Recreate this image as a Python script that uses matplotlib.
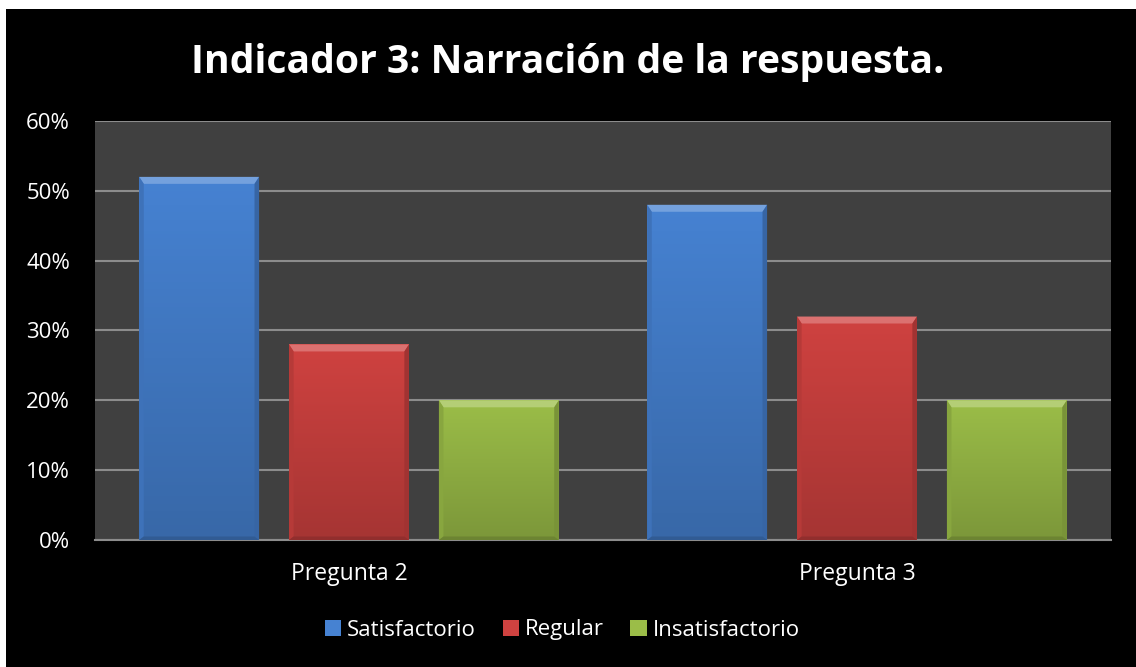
import numpy as np
import matplotlib.pyplot as plt
import matplotlib.patches as patches
from matplotlib.colors import to_rgb, LinearSegmentedColormap

categories = ["Pregunta 2", "Pregunta 3"]
series = ["Satisfactorio", "Regular", "Insatisfactorio"]
satisfactorio = [52, 48]
regular = [28, 32]
insatisfactorio = [20, 20]
values = [satisfactorio, regular, insatisfactorio]
colors = ["#4682d2", "#cf4240", "#9bbd48"]
yticks = [0, 10, 20, 30, 40, 50, 60]


def shade(c, f):
    r, g, b = to_rgb(c)
    if f > 1:
        return tuple(min(1, x + (1 - x) * (f - 1)) for x in (r, g, b))
    return (r * f, g * f, b * f)


def bevel(ax, bar, color, bx=0.009, by=1.0):
    # fake the office style bevel + gradient on each bar
    x0, w, h = bar.get_x(), bar.get_width(), bar.get_height()
    x1 = x0 + w
    cmap = LinearSegmentedColormap.from_list("g", [shade(color, 0.8), color])
    grad = np.linspace(0, 1, 100).reshape(-1, 1)
    im = ax.imshow(grad, extent=(x0, x1, 0, h), origin="lower", cmap=cmap,
                   aspect="auto", zorder=3.5)
    im.set_clip_path(bar)
    byb = 0.5
    top = [(x0, h), (x1, h), (x1 - bx, h - by), (x0 + bx, h - by)]
    left = [(x0, 0), (x0, h), (x0 + bx, h - by), (x0 + bx, byb)]
    right = [(x1, 0), (x1, h), (x1 - bx, h - by), (x1 - bx, byb)]
    bottom = [(x0, 0), (x1, 0), (x1 - bx, byb), (x0 + bx, byb)]
    for pts, f in [(top, 1.25), (left, 0.88), (right, 0.78), (bottom, 0.7)]:
        ax.add_patch(patches.Polygon(pts, closed=True, facecolor=shade(color, f),
                                     edgecolor="none", zorder=4))


fig = plt.figure(figsize=(11.36, 6.67), dpi=100, facecolor="black")
# white strips on top and left edge like the screenshot
fig.patches.append(patches.Rectangle((0, 1 - 9 / 667), 1, 9 / 667, transform=fig.transFigure,
                                     facecolor="white", edgecolor="none"))
fig.patches.append(patches.Rectangle((0, 0), 6 / 1136, 1, transform=fig.transFigure,
                                     facecolor="white", edgecolor="none"))

ax = fig.add_axes([95 / 1136, 1 - 540 / 667, 1016 / 1136, 419 / 667])
ax.set_facecolor("#404040")
ax.set_zorder(2)

x = np.arange(len(categories))
step = 0.295
width = 0.236
for i, (vals, col) in enumerate(zip(values, colors)):
    bars = ax.bar(x + (i - 1) * step, vals, width, color=col, label=series[i], zorder=3)
    for b in bars:
        bevel(ax, b, col)

ax.set_xlim(-0.5, 1.5)
ax.set_ylim(0, 60)
ax.set_yticks(yticks)
ax.set_yticklabels([f"{t}%" for t in yticks], color="white", fontsize=16, family="Open Sans")
ax.set_xticks(x)
ax.set_xticklabels(categories, color="white", fontsize=16.5, family="Open Sans")
ax.tick_params(length=0)
ax.tick_params(axis="y", pad=18)
ax.tick_params(axis="x", pad=16)
ax.yaxis.grid(True, color="#8c8c8c", linewidth=1.5, zorder=1)
for s in ["top", "left", "right"]:
    ax.spines[s].set_visible(False)
ax.spines["bottom"].set_color("#8c8c8c")
ax.spines["bottom"].set_linewidth(1.5)

fig.text(0.4993, 1 - 62 / 667, "Indicador 3: Narración de la respuesta.", ha="center", va="center",
         color="white", fontsize=28.2, fontweight="bold", family="Open Sans")

leg = fig.legend(loc="center", bbox_to_anchor=(0.495, 1 - 630 / 667), ncol=3, frameon=False,
                 handlelength=0.75, handleheight=0.75, handletextpad=0.25, columnspacing=1.2,
                 prop={"family": "Open Sans", "size": 16})
for t in leg.get_texts():
    t.set_color("white")

fig.savefig("out.png", dpi=100, facecolor=fig.get_facecolor())
